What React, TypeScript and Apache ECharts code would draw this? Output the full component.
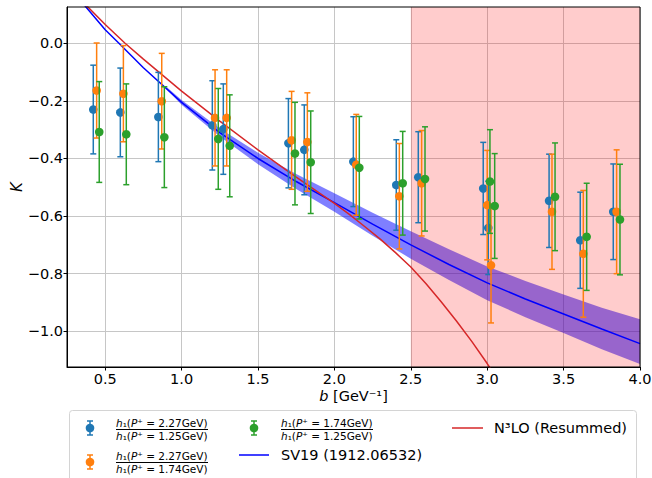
import React, { useEffect, useRef } from 'react';
import * as echarts from 'echarts';

// ---- data ----
const xTicks = [0.5, 1.0, 1.5, 2.0, 2.5, 3.0, 3.5, 4.0];
const yTicks = [-1.0, -0.8, -0.6, -0.4, -0.2, 0.0];
const xMin = 0.25, xMax = 4.0;
const yMin = -1.124, yMax = 0.126;

// ratio h1(P+=2.27)/h1(P+=1.25)
const blueB = [0.422, 0.599, 0.848, 1.201, 1.273, 1.699, 1.803, 2.124, 2.405, 2.549, 2.974, 3.007, 3.405, 3.609, 3.825];
const blueK = [-0.230, -0.240, -0.256, -0.285, -0.298, -0.347, -0.370, -0.411, -0.492, -0.465, -0.504, -0.641, -0.547, -0.684, -0.585];
const blueErr = [0.154, 0.154, 0.155, 0.155, 0.157, 0.155, 0.156, 0.156, 0.157, 0.158, 0.160, 0.162, 0.162, 0.167, 0.166];

// ratio h1(P+=2.27)/h1(P+=1.74)
const orangeB = [0.444, 0.619, 0.870, 1.219, 1.295, 1.720, 1.823, 2.143, 2.425, 2.571, 3.000, 3.025, 3.424, 3.629, 3.847];
const orangeK = [-0.164, -0.175, -0.201, -0.259, -0.259, -0.337, -0.343, -0.422, -0.531, -0.486, -0.562, -0.771, -0.585, -0.731, -0.585];
const orangeErr = [0.165, 0.167, 0.166, 0.167, 0.167, 0.170, 0.171, 0.175, 0.183, 0.183, 0.190, 0.200, 0.200, 0.220, 0.215];

// ratio h1(P+=1.74)/h1(P+=1.25)
const greenB = [0.461, 0.638, 0.887, 1.240, 1.315, 1.742, 1.845, 2.163, 2.447, 2.593, 3.018, 3.049, 3.444, 3.651, 3.869];
const greenK = [-0.308, -0.316, -0.326, -0.332, -0.356, -0.383, -0.413, -0.432, -0.486, -0.471, -0.480, -0.565, -0.533, -0.672, -0.612];
const greenErr = [0.175, 0.175, 0.175, 0.175, 0.177, 0.178, 0.178, 0.178, 0.180, 0.181, 0.180, 0.182, 0.187, 0.186, 0.192];

// SV19 central curve
const svB = [0.3, 0.374, 0.5, 0.59, 0.75, 1.0, 1.25, 1.5, 1.75, 2.0, 2.25, 2.5, 2.75, 3.0, 3.25, 3.5, 3.75, 4.0];
const svK = [0.175, 0.126, 0.047, 0.0, -0.085, -0.205, -0.31, -0.40, -0.48, -0.553, -0.628, -0.70, -0.768, -0.832, -0.888, -0.94, -0.992, -1.043];

// SV19 uncertainty band
const bandB = [0.9, 1.0, 1.25, 1.5, 1.75, 2.0, 2.25, 2.5, 2.75, 3.0, 3.25, 3.5, 3.75, 4.0];
const bandHigh = [-0.151, -0.197, -0.296, -0.38, -0.454, -0.521, -0.588, -0.653, -0.715, -0.775, -0.825, -0.872, -0.918, -0.958];
const bandLow = [-0.159, -0.213, -0.324, -0.42, -0.506, -0.585, -0.668, -0.748, -0.822, -0.892, -0.951, -1.006, -1.062, -1.114];

// N3LO (Resummed)
const n3B = [0.3, 0.383, 0.5, 0.63, 0.75, 1.0, 1.25, 1.5, 1.75, 2.0, 2.1, 2.2, 2.3, 2.4, 2.5, 2.6, 2.7, 2.8, 2.9, 3.0, 3.1];
const n3K = [0.172, 0.128, 0.065, 0.0, -0.055, -0.166, -0.27, -0.37, -0.465, -0.556, -0.595, -0.637, -0.68, -0.727, -0.777, -0.835, -0.898, -0.965, -1.036, -1.112, -1.195];

// shaded region
const shadeRange = [2.5, 4.0];

const C_BLUE = '#1f77b4';
const C_ORANGE = '#ff7f0e';
const C_GREEN = '#2ca02c';
const FONT = '"DejaVu Sans", sans-serif';

function zip3(a: number[], b: number[], c: number[]) {
  return a.map((v, i) => [v, b[i], c[i]]);
}
function zip2(a: number[], b: number[]) {
  return a.map((v, i) => [v, b[i]]);
}

function errSeries(name: string, color: string, data: number[][], z: number) {
  return {
    name,
    type: 'custom',
    z,
    data,
    encode: { x: 0, y: 1 },
    renderItem: (_p: any, api: any) => {
      const x = api.value(0), y = api.value(1), e = api.value(2);
      const c = api.coord([x, y]);
      const t = api.coord([x, y + e]);
      const b = api.coord([x, y - e]);
      const cw = 3;
      const ls = { stroke: color, lineWidth: 1.5 };
      return {
        type: 'group',
        children: [
          { type: 'line', shape: { x1: c[0], y1: t[1], x2: c[0], y2: b[1] }, style: ls },
          { type: 'line', shape: { x1: c[0] - cw, y1: t[1], x2: c[0] + cw, y2: t[1] }, style: ls },
          { type: 'line', shape: { x1: c[0] - cw, y1: b[1], x2: c[0] + cw, y2: b[1] }, style: ls },
          { type: 'circle', shape: { cx: c[0], cy: c[1], r: 4.3 }, style: { fill: color } },
        ],
      };
    },
  };
}

function legendErr(x: number, y: number, color: string) {
  const ls = { stroke: color, lineWidth: 1.5 };
  return [
    { type: 'line', shape: { x1: x, y1: y - 7, x2: x, y2: y + 7 }, style: ls, z: 101 },
    { type: 'line', shape: { x1: x - 3, y1: y - 7, x2: x + 3, y2: y - 7 }, style: ls, z: 101 },
    { type: 'line', shape: { x1: x - 3, y1: y + 7, x2: x + 3, y2: y + 7 }, style: ls, z: 101 },
    { type: 'circle', shape: { cx: x, cy: y, r: 4.3 }, style: { fill: color }, z: 101 },
  ];
}

const fracRich = {
  i: { fontStyle: 'italic', fontFamily: FONT, fontSize: 10.5, fill: '#000' },
  n: { fontFamily: FONT, fontSize: 10.5, fill: '#000' },
};
function fracText(num: string, den: string) {
  return [
    `{i|h}{n|₁(}{i|P}{n|⁺ = ${num}GeV)}`,
    `{i|h}{n|₁(}{i|P}{n|⁺ = ${den}GeV)}`,
  ];
}
function legendFrac(x: number, yMid: number, num: string, den: string) {
  const [a, b] = fracText(num, den);
  return [
    { type: 'text', x, y: yMid - 6.5, style: { text: a, rich: fracRich, verticalAlign: 'middle', align: 'left' }, z: 101 },
    { type: 'line', shape: { x1: x, y1: yMid + 0.5, x2: x + 92, y2: yMid + 0.5 }, style: { stroke: '#000', lineWidth: 1 }, z: 101 },
    { type: 'text', x, y: yMid + 7, style: { text: b, rich: fracRich, verticalAlign: 'middle', align: 'left' }, z: 101 },
  ];
}

export default function App() {
  const ref = useRef<HTMLDivElement>(null);
  useEffect(() => {
    if (!ref.current) return;
    const chart = echarts.init(ref.current, undefined, { renderer: 'svg' });
    const fmt = (v: number) => v.toFixed(1).replace('-', '−');
    const legendGraphics: any[] = [
      { type: 'rect', shape: { x: 69.5, y: 410.5, width: 567, height: 80, r: 3 }, style: { fill: 'rgba(255,255,255,0.8)', stroke: '#d4d4d4', lineWidth: 1 }, z: 100 },
      ...legendErr(90, 428, C_BLUE),
      ...legendFrac(116, 429, '2.27', '1.25'),
      ...legendErr(90, 462, C_ORANGE),
      ...legendFrac(116, 462, '2.27', '1.74'),
      ...legendErr(254, 428, C_GREEN),
      ...legendFrac(281, 429, '1.74', '1.25'),
      { type: 'line', shape: { x1: 239, y1: 455, x2: 269, y2: 455 }, style: { stroke: '#0000ff', lineWidth: 1.5 }, z: 101 },
      { type: 'text', x: 281, y: 455, style: { text: 'SV19 (1912.06532)', font: `14.5px ${FONT}`, fill: '#000', verticalAlign: 'middle' }, z: 101 },
      { type: 'line', shape: { x1: 452, y1: 428, x2: 483, y2: 428 }, style: { stroke: '#d62728', lineWidth: 1.5 }, z: 101 },
      { type: 'text', x: 494, y: 428, style: { text: 'N³LO (Resummed)', font: `14.5px ${FONT}`, fill: '#000', verticalAlign: 'middle' }, z: 101 },
      // plot frame
      { type: 'rect', shape: { x: 67, y: 7, width: 573, height: 360 }, style: { fill: 'none', stroke: '#000', lineWidth: 1 }, z: 100, silent: true },
    ];

    chart.setOption({
      animation: false,
      backgroundColor: '#fff',
      grid: { left: 67, right: 12, top: 7, bottom: 111, containLabel: false, outerBoundsMode: 'none' },
      xAxis: {
        type: 'value', min: xMin, max: xMax,
        name: '{i|b} [GeV⁻¹]',
        nameLocation: 'middle', nameGap: 21, nameMoveOverlap: false,
        nameTextStyle: { fontFamily: FONT, fontSize: 14.5, color: '#000', rich: { i: { fontStyle: 'italic', fontFamily: FONT, fontSize: 14.5, color: '#000' } } },
        axisLine: { show: true, onZero: false, lineStyle: { color: '#000', width: 1 } },
        axisTick: { show: true, length: 3.5, lineStyle: { color: '#000' }, customValues: xTicks },
        axisLabel: { customValues: xTicks, formatter: fmt, fontFamily: FONT, fontSize: 14.5, color: '#000', margin: 4 },
        splitLine: { show: true, lineStyle: { color: '#c6c6c6', width: 1 } },
      },
      yAxis: {
        type: 'value', min: yMin, max: yMax,
        name: 'K', nameLocation: 'middle', nameGap: 43, nameRotate: 90, nameMoveOverlap: false,
        nameTextStyle: { fontFamily: FONT, fontSize: 15, color: '#000', fontStyle: 'italic' },
        axisLine: { show: true, onZero: false, lineStyle: { color: '#000', width: 1 } },
        axisTick: { show: true, length: 3.5, lineStyle: { color: '#000' }, customValues: yTicks },
        axisLabel: { customValues: yTicks, formatter: fmt, fontFamily: FONT, fontSize: 14.5, color: '#000', margin: 4 },
        splitLine: { show: true, lineStyle: { color: '#c6c6c6', width: 1 } },
      },
      series: [
        {
          name: 'band', type: 'custom', z: 2, silent: true,
          data: [[bandB[0], bandHigh[0]]],
          renderItem: (_p: any, api: any) => {
            const pts: number[][] = [];
            for (let i = 0; i < bandB.length; i++) pts.push(api.coord([bandB[i], bandHigh[i]]));
            for (let i = bandB.length - 1; i >= 0; i--) pts.push(api.coord([bandB[i], bandLow[i]]));
            return { type: 'polygon', shape: { points: pts }, style: { fill: 'rgba(0,0,255,0.5)' } };
          },
        },
        {
          name: 'shade', type: 'custom', z: 3, silent: true,
          data: [shadeRange],
          encode: { x: [0, 1] },
          renderItem: (_p: any, api: any) => {
            const a = api.coord([api.value(0), yMax]);
            const b = api.coord([api.value(1), yMin]);
            return { type: 'rect', shape: { x: a[0], y: a[1], width: b[0] - a[0], height: b[1] - a[1] }, style: { fill: 'rgba(255,0,0,0.2)' } };
          },
        },
        {
          name: 'SV19 (1912.06532)', type: 'line', z: 4, data: zip2(svB, svK),
          showSymbol: false, smooth: false, clip: true,
          lineStyle: { color: '#0000ff', width: 1.5 },
        },
        {
          name: 'N3LO (Resummed)', type: 'line', z: 4, data: zip2(n3B, n3K),
          showSymbol: false, smooth: false, clip: true,
          lineStyle: { color: '#d62728', width: 1.5 },
        },
        errSeries('h1(2.27)/h1(1.25)', C_BLUE, zip3(blueB, blueK, blueErr), 5),
        errSeries('h1(2.27)/h1(1.74)', C_ORANGE, zip3(orangeB, orangeK, orangeErr), 6),
        errSeries('h1(1.74)/h1(1.25)', C_GREEN, zip3(greenB, greenK, greenErr), 7),
      ],
      graphic: legendGraphics,
    });
    return () => chart.dispose();
  }, []);
  return <div ref={ref} style={{ position: 'fixed', left: 0, top: 0, width: 652, height: 478 }} />;
}
